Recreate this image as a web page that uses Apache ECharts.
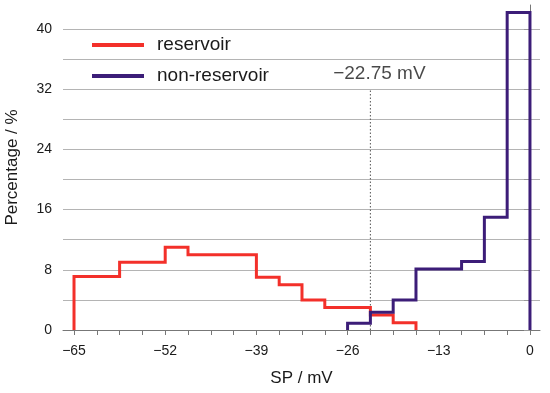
<!DOCTYPE html>
<html>
<head>
<meta charset="utf-8">
<script src="https://cdn.jsdelivr.net/npm/echarts@6/dist/echarts.min.js"></script>
<style>html,body{margin:0;padding:0;background:#fff}#c{width:550px;height:393px}</style>
</head>
<body>
<div id="c"></div>
<script>
// ---- data ----
var reservoirEdges = [-65, -58.5, -52, -48.75, -39, -35.75, -32.5, -29.25, -22.75, -19.5, -16.25];
var reservoirValues = [7.1, 9, 11, 10, 7, 6, 4, 3, 2, 0.95];
var nonReservoirEdges = [-26, -22.75, -19.5, -16.25, -9.75, -6.5, -3.25, 0];
var nonReservoirValues = [0.9, 2.35, 4, 8.1, 9.1, 15, 42.2];
var thresholdValue = -22.75;
var thresholdTop = 32.1;
var thresholdLabel = '\u221222.75 mV';
var xMajorTicks = [-65, -52, -39, -26, -13, 0];
var xMinorTicks = [-65, -61.75, -58.5, -55.25, -52, -48.75, -45.5, -42.25, -39, -35.75, -32.5, -29.25, -26, -22.75, -19.5, -16.25, -13, -9.75, -6.5, -3.25, 0];
var yTicks = [0, 4, 8, 12, 16, 20, 24, 28, 32, 36, 40];
var yLabels = [0, 8, 16, 24, 32, 40];

function stepPoints(edges, vals) {
  var pts = [[edges[0], 0]];
  for (var i = 0; i < vals.length; i++) pts.push([edges[i], vals[i]]);
  var n = edges.length - 1;
  pts.push([edges[n], vals[vals.length - 1]]);
  pts.push([edges[n], 0]);
  return pts;
}
function fmtMinus(v) { return String(v).replace('-', '\u2212'); }

var FONT = '"Liberation Sans", Arial, sans-serif';
var chart = echarts.init(document.getElementById('c'), null, {renderer: 'canvas'});
var gridColors = yTicks.map(function () { return '#b4b4b4'; });
gridColors.push('rgba(0,0,0,0)');

chart.setOption({
  animation: false,
  backgroundColor: '#fff',
  grid: {left: 63, right: 10, top: 5, bottom: 63, containLabel: false, outerBoundsMode: 'none'},
  legend: {
    data: ['reservoir', 'non-reservoir'],
    orient: 'vertical',
    left: 87, top: 30,
    icon: 'rect',
    itemWidth: 52, itemHeight: 4,
    itemGap: 11,
    textStyle: {fontFamily: FONT, fontSize: 19, color: '#1a1a1a', lineHeight: 20, padding: [0, 0, 0, 8]}
  },
  xAxis: {
    type: 'value',
    min: -66.57, max: 1.43,
    name: 'SP / mV', nameLocation: 'middle', nameGap: 40,
    nameTextStyle: {fontFamily: FONT, fontSize: 17, color: '#1a1a1a'},
    axisLine: {show: true, onZero: false, lineStyle: {color: '#777', width: 1}},
    axisTick: {show: true, customValues: xMinorTicks, length: 5, lineStyle: {color: '#777'}},
    axisLabel: {customValues: xMajorTicks, formatter: fmtMinus, fontFamily: FONT, fontSize: 14, color: '#1a1a1a', margin: 14},
    splitLine: {show: false}
  },
  yAxis: {
    type: 'value',
    min: 0, max: 43.2, interval: 4,
    name: 'Percentage / %', nameLocation: 'middle', nameGap: 42, nameRotate: 90,
    nameTextStyle: {fontFamily: FONT, fontSize: 17, color: '#1a1a1a'},
    axisLine: {show: true, lineStyle: {color: '#777', width: 1}},
    axisTick: {show: true, customValues: yTicks, length: 6, lineStyle: {color: '#999'}},
    axisLabel: {customValues: yLabels, fontFamily: FONT, fontSize: 14, color: '#1a1a1a', margin: 11},
    splitLine: {show: true, lineStyle: {color: gridColors, width: 1}}
  },
  series: [
    {
      name: 'threshold', type: 'line', silent: true,
      data: [[thresholdValue, 0], [thresholdValue, thresholdTop]],
      symbol: 'none',
      lineStyle: {color: '#555', width: 1, type: [1.5, 2]},
      z: 1
    },
    {
      name: 'thresholdLabel', type: 'scatter', silent: true,
      data: [[thresholdValue, thresholdTop]],
      symbolSize: 0,
      label: {show: true, position: 'top', distance: 5, offset: [9, 0], formatter: thresholdLabel,
        fontFamily: FONT, fontSize: 19, color: '#1a1a1a'}
    },
    {
      name: 'reservoir', type: 'line', step: 'end',
      data: stepPoints(reservoirEdges, reservoirValues),
      symbol: 'none',
      itemStyle: {color: '#f3302a'},
      lineStyle: {color: '#f3302a', width: 3, join: 'miter', cap: 'butt'},
      z: 3
    },
    {
      name: 'non-reservoir', type: 'line', step: 'end',
      data: stepPoints(nonReservoirEdges, nonReservoirValues),
      symbol: 'none',
      itemStyle: {color: '#3c1d78'},
      lineStyle: {color: '#3c1d78', width: 3, join: 'miter', cap: 'butt'},
      z: 4
    }
  ]
});
</script>
</body>
</html>
